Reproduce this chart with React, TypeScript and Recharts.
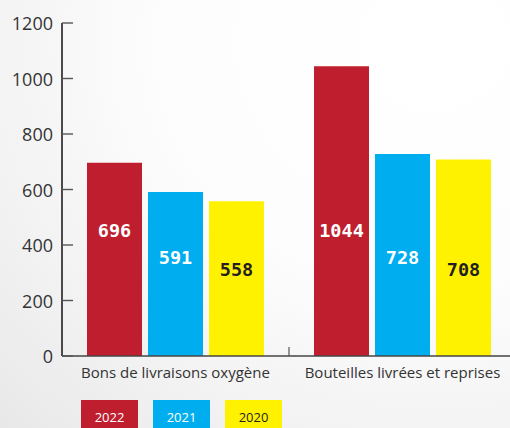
import React from "react";
import { BarChart, Bar, XAxis, YAxis, LabelList, Legend } from "recharts";

const categories = ["Bons de livraisons oxygène", "Bouteilles livrées et reprises"];
const values2022 = [696, 1044];
const values2021 = [591, 728];
const values2020 = [558, 708];
const yTicks = [0, 200, 400, 600, 800, 1000, 1200];

const series = [
  { key: "y2022", name: "2022", color: "#BE1E2D", text: "#FFFFFF", labelLift: 126 },
  { key: "y2021", name: "2021", color: "#00AEEF", text: "#FFFFFF", labelLift: 99 },
  { key: "y2020", name: "2020", color: "#FFF200", text: "#231F20", labelLift: 87 },
];

const data = categories.map((c, i) => ({
  name: c,
  y2022: values2022[i],
  y2021: values2021[i],
  y2020: values2020[i],
}));

const FONT = "'Open Sans', 'Noto Sans', sans-serif";

const YTick = (props: any) => {
  const { x, y, payload } = props;
  return (
    <g>
      <line x1={x} x2={x + 11} y1={y} y2={y} stroke="#555" strokeWidth={1.4} />
      <text x={x - 9} y={y} textAnchor="end" dominantBaseline="central" fontFamily={FONT} fontSize={18} fill="#333">
        {payload.value}
      </text>
    </g>
  );
};

const XTick = (props: any) => {
  const { x, y, payload, index, width, visibleTicksCount } = props;
  const band = width / visibleTicksCount;
  return (
    <g>
      {index === 0 ? (
        <line x1={x + band / 2} x2={x + band / 2} y1={y} y2={y - 9} stroke="#555" strokeWidth={1.2} />
      ) : null}
      <text x={x} y={y + 22} textAnchor="middle" fontFamily={FONT} fontSize={15} fill="#333">
        {payload.value}
      </text>
    </g>
  );
};

const makeLabel = (lift: number, color: string) => (props: any) => {
  const { x, y, width, height, value } = props;
  return (
    <text
      x={x + width / 2}
      y={y + height - lift}
      textAnchor="middle"
      dominantBaseline="central"
      fontFamily="'DejaVu Sans Mono', monospace"
      fontWeight="bold"
      fontSize={18.5}
      fill={color}
    >
      {value}
    </text>
  );
};

const LegendContent = () => (
  <div style={{ display: "flex", gap: 15, paddingLeft: 81 }}>
    {series.map((s) => (
      <div
        key={s.key}
        style={{
          width: 57,
          height: 28,
          background: s.color,
          color: s.text,
          fontFamily: FONT,
          fontSize: 13,
          display: "flex",
          alignItems: "center",
          justifyContent: "center",
          paddingTop: 5,
          boxSizing: "border-box",
        }}
      >
        {s.name}
      </div>
    ))}
  </div>
);

export default function App() {
  return (
    <div
      style={{
        position: "absolute",
        left: 0,
        top: 0,
        width: 510,
        height: 428,
        overflow: "hidden",
        background:
          "radial-gradient(ellipse at 85% 10%, #ffffff 0%, #fdfdfd 45%, #f0f0f0 80%, #e8e8e8 100%)",
      }}
    >
      <BarChart
        width={516}
        height={428}
        data={data}
        margin={{ top: 23, right: 0, left: 0, bottom: 0 }}
        barGap={6}
        barCategoryGap="11%"
      >
        <YAxis
          domain={[0, 1200]}
          ticks={yTicks}
          width={62}
          tickLine={false}
          tickSize={0}
          tickMargin={0}
          axisLine={{ stroke: "#231F20", strokeWidth: 1.6 }}
          tick={<YTick />}
          interval={0}
        />
        <XAxis
          dataKey="name"
          height={44}
          tickLine={false}
          tickSize={0}
          tickMargin={0}
          axisLine={{ stroke: "#444", strokeWidth: 1.6 }}
          tick={<XTick />}
          interval={0}
        />
        <Legend verticalAlign="bottom" align="left" height={28} content={<LegendContent />} />
        {series.map((s) => (
          <Bar key={s.key} dataKey={s.key} name={s.name} fill={s.color} barSize={55} isAnimationActive={false}>
            <LabelList dataKey={s.key} content={makeLabel(s.labelLift, s.text)} />
          </Bar>
        ))}
      </BarChart>
    </div>
  );
}
